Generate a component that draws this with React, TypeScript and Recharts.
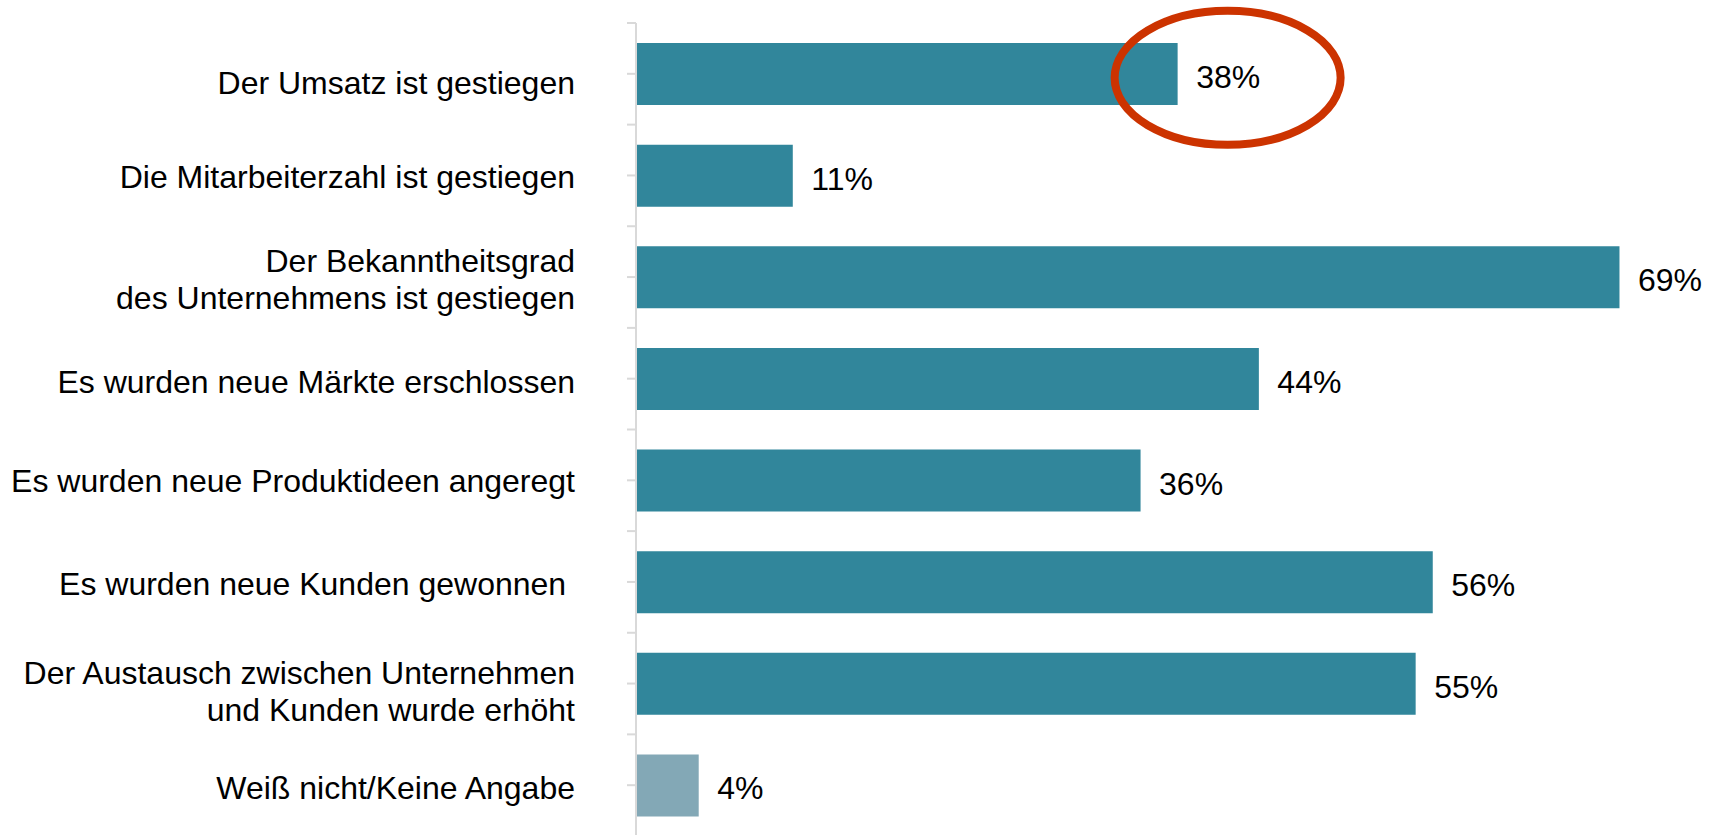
import React from "react";
import { BarChart, Bar, XAxis, YAxis, Cell, LabelList, ReferenceDot } from "recharts";

const categories = [
  "Der Umsatz ist gestiegen",
  "Die Mitarbeiterzahl ist gestiegen",
  "Der Bekanntheitsgrad\ndes Unternehmens ist gestiegen",
  "Es wurden neue Märkte erschlossen",
  "Es wurden neue Produktideen angeregt",
  "Es wurden neue Kunden gewonnen\u00A0",
  "Der Austausch zwischen Unternehmen\nund Kunden wurde erhöht",
  "Weiß nicht/Keine Angabe",
];
// bar lengths (labels show the rounded percentages)
const values = [38, 11, 69, 43.7, 35.4, 55.9, 54.7, 4.4];
const valueLabels = ["38%", "11%", "69%", "44%", "36%", "56%", "55%", "4%"];
const highlighted = "Der Umsatz ist gestiegen";

const data = categories.map((name, i) => ({ name, value: values[i], label: valueLabels[i] }));

const W = 1718;
const H = 850;
const MT = 23;
const MB = 14;
const BAND = (H - MT - MB) / categories.length;
const FONT = "'Liberation Sans', Arial, sans-serif";
const TEAL = "#31869B";
const LIGHT = "#83A8B6";
const AXIS = "#D9D9D9";
const TICK_SIZE = 9;
const TICK_MARGIN = 52;

const nudge: Record<number, number> = { 0: 9, 1: 1, 2: 2, 3: 3, 4: 0, 5: 2, 6: 7, 7: 2 };

const CatTick = (props: any) => {
  const { x, y, payload, index } = props;
  const lines: string[] = String(payload.value).split("\n");
  const lh = 37;
  const dyBase = 11.5 + (nudge[index] ?? 0) - ((lines.length - 1) * lh) / 2;
  const ax = x + TICK_MARGIN;
  return (
    <g>
      <line x1={ax} x2={ax + TICK_SIZE} y1={y - BAND / 2} y2={y - BAND / 2} stroke={AXIS} strokeWidth={2} />
      <text x={x} y={y} textAnchor="end" fontFamily={FONT} fontSize={32} fill="#000">
        {lines.map((l, i) => (
          <tspan key={i} x={x} dy={i === 0 ? dyBase : lh}>
            {l}
          </tspan>
        ))}
      </text>
    </g>
  );
};

const ValueLabel = (props: any) => {
  const { x, y, width, height, value } = props;
  return (
    <text x={x + width + 18.5} y={y + height / 2 + 14} fontFamily={FONT} fontSize={32} fill="#000">
      {value}
    </text>
  );
};

const Ring = (props: any) => {
  const { cx, cy } = props;
  return (
    <ellipse cx={cx + 50} cy={cy + 4} rx={113} ry={67} fill="none" stroke="#CC3300" strokeWidth={8} />
  );
};

export default function App() {
  return (
    <div style={{ position: "fixed", top: 0, left: 0, width: 1718, height: 835, overflow: "hidden", background: "#fff" }}>
      <BarChart
        width={W}
        height={H}
        data={data}
        layout="vertical"
        margin={{ top: MT, right: 13, bottom: MB, left: 0 }}
      >
        <XAxis type="number" domain={[0, 75]} hide />
        <YAxis
          type="category"
          dataKey="name"
          width={636}
          axisLine={{ stroke: AXIS, strokeWidth: 2 }}
          tickLine={{ stroke: AXIS, strokeWidth: 2 }}
          tickSize={TICK_SIZE}
          tickMargin={TICK_MARGIN}
          tick={<CatTick />}
          interval={0}
        />
        <Bar dataKey="value" barSize={62} isAnimationActive={false}>
          {data.map((d, i) => (
            <Cell key={i} fill={i === data.length - 1 ? LIGHT : TEAL} />
          ))}
          <LabelList dataKey="label" content={<ValueLabel />} />
        </Bar>
        <ReferenceDot x={values[0]} y={highlighted} shape={<Ring />} ifOverflow="visible" />
      </BarChart>
    </div>
  );
}
